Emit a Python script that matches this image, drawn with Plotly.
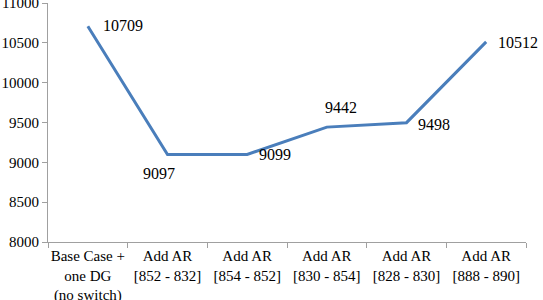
import plotly.graph_objects as go

categories = ["Base Case +<br>one DG<br>(no switch)", "Add AR<br>[852 - 832]", "Add AR<br>[854 - 852]",
              "Add AR<br>[830 - 854]", "Add AR<br>[828 - 830]", "Add AR<br>[888 - 890]"]
values = [10709, 9097, 9099, 9442, 9498, 10512]
label_shift = [(35, 1), (-9, -19), (28, 0), (14, 20), (27, -2), (32, -1)]

FONT = "Liberation Serif, DejaVu Serif, serif"

fig = go.Figure()
fig.add_trace(go.Scatter(x=categories, y=values, mode="lines",
                         line=dict(color="#4a7ebb", width=3), hoverinfo="skip"))

for c, v, (dx, dy) in zip(categories, values, label_shift):
    fig.add_annotation(x=c, y=v, xref="x", yref="y", text=str(v), showarrow=False,
                       xshift=dx, yshift=dy,
                       font=dict(family=FONT, size=16, color="black"))

fig.update_layout(
    width=543, height=300,
    margin=dict(l=48, r=17, t=3, b=58),
    plot_bgcolor="white", paper_bgcolor="white",
    showlegend=False,
    font=dict(family=FONT, size=15, color="black"),
)
fig.update_xaxes(type="category", range=[-0.5, 5.5], showline=True, linecolor="#a0a0a0", linewidth=1,
                 ticks="outside", tickson="boundaries", ticklen=5, tickcolor="#a0a0a0",
                 showgrid=False, zeroline=False, tickangle=0, automargin=False)
fig.update_yaxes(range=[8000, 11000], tickvals=[8000, 8500, 9000, 9500, 10000, 10500, 11000],
                 tickformat="d", ticklabeloverflow="allow", automargin=False,
                 showline=True, linecolor="#a0a0a0", linewidth=1,
                 ticks="outside", ticklen=5, tickcolor="#a0a0a0",
                 showgrid=False, zeroline=False)

fig.write_html("out.html")
